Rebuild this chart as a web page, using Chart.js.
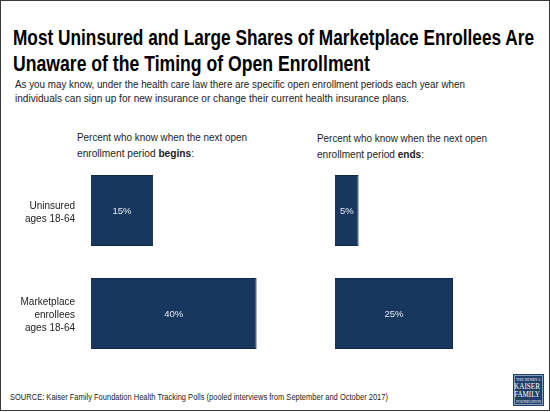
<!DOCTYPE html>
<html>
<head>
<meta charset="utf-8">
<script src="https://cdn.jsdelivr.net/npm/chart.js@4.4.1/dist/chart.umd.min.js"></script>
<style>
  html, body { margin: 0; padding: 0; background: #fff; }
  body { width: 550px; height: 412px; position: relative; overflow: hidden; font-family: "Liberation Sans", Arial, sans-serif; color: #1a1a1a; }
  .frame { position: absolute; left: 0; top: 0; width: 548px; height: 409px; border: 1px solid #3a3a3a; }
  .txt { position: absolute; white-space: nowrap; }
  .fit { display: inline-block; white-space: nowrap; transform-origin: 0 0; }
  .title { left: 13px; top: 25px; font-size: 22px; line-height: 26px; font-weight: bold; color: #000; }
  .sub { left: 15px; top: 78px; font-size: 10px; line-height: 13.5px; color: #222; }
  .head { font-size: 10.5px; line-height: 16px; color: #222; }
  .source { left: 10px; top: 392px; font-size: 8.5px; line-height: 11px; color: #222; }
  canvas { position: absolute; }
  .logo { position: absolute; left: 513px; top: 374px; width: 31px; height: 32px; background: #1f3f6a; color: #fff;
          font-family: "Liberation Serif", serif; text-align: center; box-sizing: border-box; border: 1px solid #1f3f6a; outline: 1px solid #8aa0bf; outline-offset: -2px; }
  .logo div { line-height: 1; }
</style>
</head>
<body>
<div class="frame"></div>

<div class="txt title">
  <div><span class="fit" data-w="521">Most Uninsured and Large Shares of Marketplace Enrollees Are</span></div>
  <div><span class="fit" data-w="357">Unaware of the Timing of Open Enrollment</span></div>
</div>

<div class="txt sub">
  <div><span class="fit" data-w="450">As you may know, under the health care law there are specific open enrollment periods each year when</span></div>
  <div><span class="fit" data-w="394">individuals can sign up for new insurance or change their current health insurance plans.</span></div>
</div>

<div class="txt head" style="left:77px; top:129px;">
  <div><span class="fit" data-w="170">Percent who know when the next open</span></div>
  <div><span class="fit" data-w="117">enrollment period <b>begins</b>:</span></div>
</div>

<div class="txt head" style="left:317px; top:130px;">
  <div><span class="fit" data-w="170">Percent who know when the next open</span></div>
  <div><span class="fit" data-w="107">enrollment period <b>ends</b>:</span></div>
</div>

<canvas id="beginsChart" width="298" height="206" style="left:0; top:159px;"></canvas>
<canvas id="endsChart" width="236" height="206" style="left:335px; top:159px;"></canvas>

<div class="txt source"><span class="fit" data-w="378">SOURCE: Kaiser Family Foundation Health Tracking Polls (pooled interviews from September and October 2017)</span></div>

<div class="logo">
  <div style="font-size:4px; margin-top:3px;"><span class="fit" data-w="25">THE HENRY J.</span></div>
  <div style="font-size:8px; margin-top:1px;"><span class="fit" data-w="26">KAISER</span></div>
  <div style="font-size:8px;"><span class="fit" data-w="26">FAMILY</span></div>
  <div style="font-size:4px; margin-top:1px;"><span class="fit" data-w="25">FOUNDATION</span></div>
</div>

<script>
// chart data
const categories = [['Uninsured', 'ages 18-64'], ['Marketplace', 'enrollees', 'ages 18-64']];
const beginsValues = [15, 40];
const endsValues = [5, 25];

const barFill = '#17375e';
const barEdge = '#0f2844';

// squeeze each text line to the width it has in the reference
document.querySelectorAll('.fit').forEach(el => {
    const natural = el.getBoundingClientRect().width;
    const target = parseFloat(el.dataset.w);
    if (natural > 0) el.style.transform = `scaleX(${target / natural})`;
});

// draws the value inside each bar
const valueLabels = {
    id: 'valueLabels',
    afterDatasetsDraw(chart) {
        const ctx = chart.ctx;
        ctx.save();
        ctx.fillStyle = '#e4ebf4';
        ctx.font = '9.5px "Liberation Sans", Arial, sans-serif';
        ctx.textAlign = 'center';
        ctx.textBaseline = 'middle';
        chart.getDatasetMeta(0).data.forEach((bar, i) => {
            const v = chart.data.datasets[0].data[i];
            ctx.fillText(v + '%', (bar.x + bar.base) / 2, bar.y + 1);
        });
        ctx.restore();
    }
};

function makeChart(id, values, showLabels) {
    const ctx = document.getElementById(id).getContext('2d');
    return new Chart(ctx, {
        type: 'bar',
        data: {
            labels: categories,
            datasets: [{
                data: values,
                backgroundColor: barFill,
                borderColor: barEdge,
                borderWidth: 1,
                barPercentage: 0.69,
                categoryPercentage: 1
            }]
        },
        options: {
            indexAxis: 'y',
            responsive: false,
            animation: false,
            layout: { padding: 0 },
            plugins: { legend: { display: false }, tooltip: { enabled: false } },
            scales: {
                x: { display: false, min: 0, max: 50 },
                y: {
                    display: showLabels,
                    grid: { display: false, drawTicks: false },
                    border: { display: false },
                    ticks: {
                        padding: 16,
                        labelOffset: 2,
                        color: '#222',
                        font: { family: '"Liberation Sans", Arial, sans-serif', size: 10, lineHeight: 1.32 }
                    },
                    afterFit: scale => {
                        // fixed label column, no extra room above/below for the tall labels
                        scale.width = showLabels ? 91 : 0;
                        scale.paddingTop = 0;
                        scale.paddingBottom = 0;
                    }
                }
            }
        },
        plugins: [valueLabels]
    });
}

makeChart('beginsChart', beginsValues, true);
makeChart('endsChart', endsValues, false);
</script>
</body>
</html>
